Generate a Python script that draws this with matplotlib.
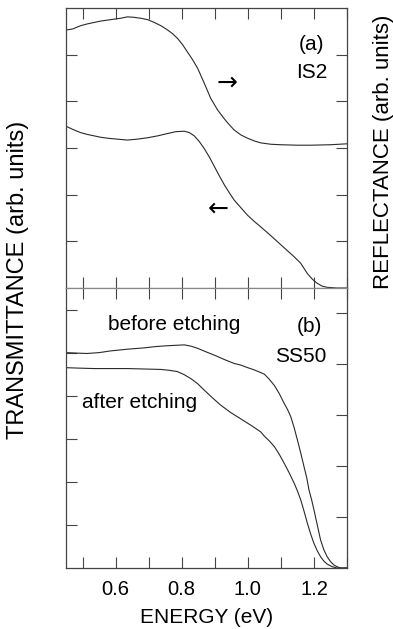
import matplotlib
matplotlib.use('Agg')
import matplotlib.pyplot as plt

plt.rcParams['font.family'] = ['Liberation Sans', 'DejaVu Sans']

# (a) IS2 - reflectance (upper curve, right axis) and transmittance (lower curve)
e_refl = [0.452, 0.47, 0.494, 0.515, 0.535, 0.555, 0.575, 0.595, 0.615, 0.636, 0.656,
          0.676, 0.697, 0.717, 0.737, 0.757, 0.772, 0.787, 0.802, 0.817, 0.833,
          0.848, 0.868, 0.888, 0.909, 0.925, 0.94, 0.958, 0.979, 0.999, 1.02,
          1.039, 1.07, 1.1, 1.15, 1.19, 1.25, 1.3]
refl_is2 = [5.53, 5.55, 5.62, 5.66, 5.69, 5.72, 5.74, 5.76, 5.78, 5.81, 5.80,
            5.78, 5.75, 5.69, 5.62, 5.53, 5.45, 5.35, 5.22, 5.06, 4.89,
            4.71, 4.39, 4.06, 3.81, 3.66, 3.53, 3.39, 3.28, 3.21, 3.15,
            3.11, 3.08, 3.07, 3.06, 3.06, 3.07, 3.09]

e_trans = [0.452, 0.47, 0.494, 0.515, 0.535, 0.555, 0.575, 0.605, 0.636, 0.666,
           0.697, 0.727, 0.757, 0.782, 0.808, 0.823, 0.838, 0.853, 0.868, 0.884,
           0.899, 0.914, 0.929, 0.944, 0.958, 0.979, 0.999, 1.019, 1.039, 1.065,
           1.09, 1.115, 1.14, 1.16, 1.18, 1.195, 1.21, 1.225, 1.24, 1.27, 1.3]
trans_is2 = [3.46, 3.40, 3.33, 3.29, 3.26, 3.23, 3.21, 3.19, 3.17, 3.19,
             3.22, 3.26, 3.31, 3.35, 3.36, 3.33, 3.26, 3.14, 2.99, 2.80,
             2.60, 2.40, 2.21, 2.04, 1.89, 1.72, 1.56, 1.43, 1.31, 1.15,
             0.99, 0.83, 0.67, 0.53, 0.31, 0.19, 0.10, 0.04, 0.015, 0.0, 0.0]

# (b) SS50 - transmittance before / after etching
e_before = [0.452, 0.48, 0.513, 0.55, 0.585, 0.636, 0.686, 0.72, 0.757, 0.782,
            0.808, 0.828, 0.848, 0.873, 0.899, 0.929, 0.958, 0.979, 1.0, 1.019,
            1.035, 1.05, 1.065, 1.08, 1.095, 1.11, 1.12, 1.13, 1.14, 1.15,
            1.16, 1.17, 1.178, 1.185, 1.193, 1.20, 1.21, 1.22, 1.23, 1.24,
            1.25, 1.26, 1.27, 1.28, 1.3]
before = [5.00, 4.99, 4.98, 5.00, 5.04, 5.08, 5.11, 5.14, 5.16, 5.17,
          5.18, 5.15, 5.10, 5.02, 4.94, 4.84, 4.75, 4.71, 4.65, 4.60,
          4.55, 4.50, 4.38, 4.24, 4.05, 3.82, 3.68, 3.51, 3.26, 2.97,
          2.67, 2.35, 2.10, 1.81, 1.58, 1.35, 1.00, 0.65, 0.42, 0.26,
          0.15, 0.07, 0.03, 0.0, 0.0]

e_after = [0.452, 0.49, 0.535, 0.585, 0.636, 0.686, 0.736, 0.762, 0.787, 0.807,
           0.827, 0.848, 0.868, 0.893, 0.918, 0.948, 0.979, 1.01, 1.039, 1.05,
           1.065, 1.08, 1.095, 1.11, 1.125, 1.14, 1.15, 1.16, 1.17, 1.18,
           1.19, 1.20, 1.21, 1.22, 1.23, 1.24, 1.255, 1.27, 1.3]
after = [4.65, 4.64, 4.63, 4.63, 4.63, 4.62, 4.61, 4.59, 4.56, 4.49,
         4.40, 4.28, 4.13, 3.95, 3.78, 3.61, 3.46, 3.31, 3.16, 3.06,
         2.95, 2.82, 2.64, 2.43, 2.21, 1.97, 1.79, 1.58, 1.32, 1.04,
         0.79, 0.57, 0.40, 0.26, 0.16, 0.09, 0.03, 0.0, 0.0]

xticks = [0.6, 0.8, 1.0, 1.2]
xminor = [0.5, 0.7, 0.9, 1.1, 1.3]

fig = plt.figure(figsize=(3.93, 6.29), dpi=100)
ax1 = fig.add_axes([0.168, 0.5421, 0.715, 0.4452])
ax2 = fig.add_axes([0.168, 0.0970, 0.715, 0.4451])

line_col = '#2a2a2a'
spine_col = '#444444'


def style(ax):
    ax.set_xlim(0.45, 1.3)
    ax.set_xticks(xticks)
    ax.set_xticks(xminor, minor=True)
    for w in ['major', 'minor']:
        ax.tick_params(which=w, direction='in', length=8, width=0.8,
                       color=spine_col, top=True)
    for s in ax.spines.values():
        s.set_color(spine_col)
        s.set_linewidth(0.9)


style(ax1)
ax1.set_ylim(0, 6)
ax1.set_yticks([1, 2, 3, 4, 5])
ax1.tick_params(axis='y', right=True)
ax1.tick_params(labelbottom=False, labelleft=False)
ax1.spines['bottom'].set_color('#888888')
ax1.plot(e_refl, refl_is2, color=line_col, lw=0.8)
ax1.plot(e_trans, trans_is2, color=line_col, lw=0.8)

ax1.text(0.872, 0.871, '(a)', transform=ax1.transAxes, ha='center', va='center', fontsize=15)
ax1.text(0.875, 0.770, 'IS2', transform=ax1.transAxes, ha='center', va='center', fontsize=15)
ax1.text(0.573, 0.732, '\u2192', transform=ax1.transAxes, ha='center', va='center',
         fontsize=18, family='DejaVu Sans')
ax1.text(0.541, 0.282, '\u2190', transform=ax1.transAxes, ha='center', va='center',
         fontsize=18, family='DejaVu Sans')

style(ax2)
ax2.set_ylim(0, 6.5)
ax2.set_yticks([1, 2, 3, 4, 5, 6])
ax2.tick_params(axis='y', labelleft=False)
ax2.spines['top'].set_color('#888888')
ax2.tick_params(axis='x', labelsize=14.5, pad=9)
ax2.set_xticklabels(['0.6', '0.8', '1.0', '1.2'])
ax2.plot(e_before, before, color=line_col, lw=0.8)
ax2.plot(e_after, after, color=line_col, lw=0.8)

ax2r = ax2.twinx()
ax2r.set_ylim(0, 5.5)
ax2r.set_yticks([1, 2, 3, 4, 5])
ax2r.tick_params(axis='y', direction='in', length=8, width=0.8, color=spine_col,
                 labelright=False)
for s in ax2r.spines.values():
    s.set_visible(False)

ax2.text(0.384, 0.871, 'before etching', transform=ax2.transAxes, ha='center', va='center', fontsize=15)
ax2.text(0.868, 0.861, '(b)', transform=ax2.transAxes, ha='center', va='center', fontsize=15)
ax2.text(0.836, 0.757, 'SS50', transform=ax2.transAxes, ha='center', va='center', fontsize=15)
ax2.text(0.260, 0.591, 'after etching', transform=ax2.transAxes, ha='center', va='center', fontsize=15)

fig.text(0.525, 0.0175, 'ENERGY (eV)', ha='center', va='center', fontsize=15)
fig.text(0.046, 0.555, 'TRANSMITTANCE (arb. units)', rotation=90, ha='center', va='center', fontsize=17)
fig.text(0.975, 0.758, 'REFLECTANCE (arb. units)', rotation=90, ha='center', va='center', fontsize=16)

fig.savefig('out.png', dpi=100)
